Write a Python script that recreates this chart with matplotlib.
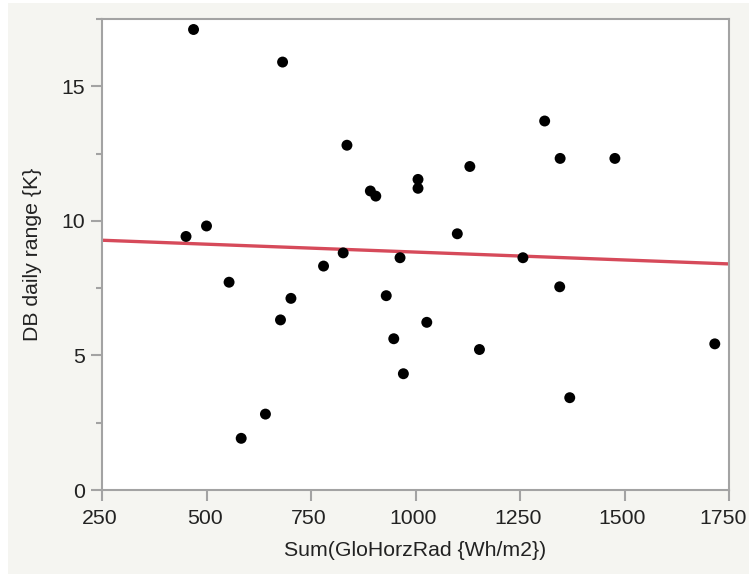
import matplotlib
matplotlib.use("Agg")
import matplotlib.pyplot as plt
from matplotlib.patches import Rectangle
from matplotlib.ticker import MultipleLocator
from matplotlib.transforms import ScaledTranslation

# daily global horizontal radiation sum vs dry-bulb daily range
glo_rad = [469, 682, 836, 892, 905, 451, 500, 780, 827, 554,
           1309, 1346, 1477, 1130, 1006, 1006, 1100, 963, 1257, 1345,
           702, 677, 641, 583, 930, 1027, 948, 1153, 1716, 971, 1369]
db_range = [17.11, 15.90, 12.81, 11.11, 10.92, 9.42, 9.81, 8.32, 8.81, 7.72,
            13.71, 12.32, 12.32, 12.02, 11.54, 11.21, 9.52, 8.63, 8.63, 7.55,
            7.12, 6.32, 2.82, 1.92, 7.22, 6.23, 5.62, 5.22, 5.43, 4.32, 3.43]

# linear fit shown in the chart (end points)
fit_x = [250, 1750]
fit_y = [9.28, 8.40]

x_ticks = [250, 500, 750, 1000, 1250, 1500, 1750]
y_ticks = [0, 5, 10, 15]

plt.rcParams["font.family"] = ["Liberation Sans", "DejaVu Sans"]
SPINE = "#a3a3a3"
TXT = "#222222"

fig = plt.figure(figsize=(7.49, 5.74), dpi=100, facecolor="white")
fig.patches.append(Rectangle((8 / 749, 0), 1, 1 - 3 / 574, transform=fig.transFigure,
                             facecolor="#f5f5f1", edgecolor="none", zorder=-10))
ax = fig.add_axes([102 / 749, 1 - 490 / 574, 627 / 749, 471 / 574])
ax.set_facecolor("white")

ax.plot(fit_x, fit_y, color="#d64a5a", lw=2.4, zorder=2, solid_capstyle="butt")
ax.scatter(glo_rad, db_range, s=62, color="black", edgecolors="none", zorder=3)

ax.set_xlim(250, 1750)
ax.set_ylim(0, 17.5)
ax.set_xticks(x_ticks)
ax.set_yticks(y_ticks)
ax.yaxis.set_minor_locator(MultipleLocator(2.5))

for s in ax.spines.values():
    s.set_color(SPINE)
    s.set_linewidth(1.5)
ax.tick_params(which="major", length=8, width=1.5, color=SPINE, labelsize=15.3,
               labelcolor=TXT)
ax.tick_params(axis="x", pad=6)
ax.tick_params(axis="y", pad=4.5)
ax.tick_params(which="minor", length=4.5, width=1.5, color=SPINE)

# labels sit a touch left of their ticks, last one pulled in to fit
labels = ax.get_xticklabels()
for i, lab in enumerate(labels):
    dx = -6 if i == len(labels) - 1 else -2
    lab.set_transform(lab.get_transform() + ScaledTranslation(dx / 100, 0, fig.dpi_scale_trans))

ax.set_xlabel("Sum(GloHorzRad {Wh/m2})", fontsize=15.3, color=TXT, labelpad=9)
ax.set_ylabel("DB daily range {K}", fontsize=15.3, color=TXT, labelpad=14)

fig.savefig("out.png", dpi=100)
